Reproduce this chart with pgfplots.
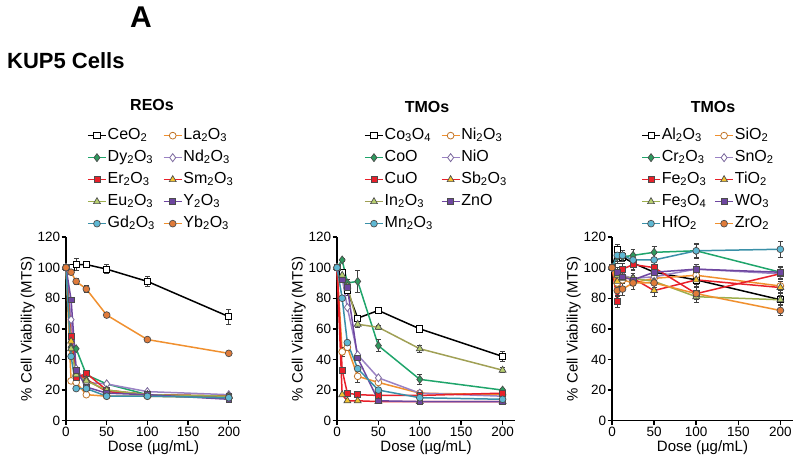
\documentclass[border=0pt]{standalone}
\usepackage{pgfplots}
\pgfplotsset{compat=1.18}
\usepackage{fontspec}
\setmainfont{Liberation Sans}
\definecolor{cgreen}{HTML}{1FA56B}
\definecolor{cgreenf}{HTML}{2E9A5E}
\definecolor{cred}{HTML}{E8202A}
\definecolor{colive}{HTML}{9DAF4E}
\definecolor{colivef}{HTML}{B8D070}
\definecolor{colive2}{HTML}{A0A055}
\definecolor{ccyan}{HTML}{3A90A8}
\definecolor{ccyanf}{HTML}{5FB8D3}
\definecolor{corange}{HTML}{F0902F}
\definecolor{corangef}{HTML}{E07B3A}
\definecolor{cpurl}{HTML}{9A82C4}
\definecolor{cpur}{HTML}{6E46A0}
\definecolor{cyellow}{HTML}{F2C230}
\pgfplotsset{
 panel/.style={
  scale only axis, width=#1, height=183.7pt,
  xmin=0, xmax=215, ymin=0, ymax=120,
  axis lines=left, axis line style={-, line width=1.5pt},
  xtick={0,50,100,150,200}, ytick={0,20,...,120},
  tick style={line width=1.4pt, black}, major tick length=4.5pt, tick align=outside,
  tick label style={font=\fontsize{13.5}{14}\selectfont},
  yticklabel style={inner xsep=1.2pt},
  xticklabel style={inner ysep=2pt},
  /pgf/number format/assume math mode=true,
  xlabel={Dose (µg/mL)}, ylabel={\% Cell Viability (MTS)},
  label style={font=\fontsize{15}{16}\selectfont},
  ylabel shift=-2pt, xlabel shift=-1.5pt,
  clip=false,
  every axis plot/.append style={line width=1.5pt},
  error bars/error bar style={line width=0.8pt, black!75},
  error bars/error mark options={rotate=90, mark size=2.4pt, line width=0.8pt, black!75},
  legend columns=2, legend cell align=left,
  legend style={draw=none, fill=none, anchor=north west,
    font=\fontsize{16}{17}\selectfont, row sep=5pt,
    nodes={inner sep=1pt, text height=11pt, text depth=4pt},
    /tikz/every even column/.append style={column sep=7pt}},
  legend image code/.code={\draw[mark repeat=2, mark phase=2, ##1] plot coordinates {(0pt,0pt) (9pt,0pt) (18pt,0pt)};},
 },
 sBlk/.style={black, mark=square*, mark options={solid, fill=white, draw=black, mark size=3.1pt, line width=0.8pt}},
 sGrn/.style={cgreen, mark=diamond*, mark options={solid, fill=cgreenf, draw=black!70, mark size=4pt, line width=0.7pt}},
 sRed/.style={cred, mark=square*, mark options={solid, fill=cred, draw=black!70, mark size=2.9pt, line width=0.7pt}},
 sTri/.style={colive, mark=triangle*, mark options={solid, fill=colivef, draw=black!70, mark size=4pt, line width=0.7pt}},
 sTriB/.style={colive2, mark=triangle*, mark options={solid, fill=colivef, draw=black!70, mark size=4pt, line width=0.7pt}},
 sCyn/.style={ccyan, mark=*, mark options={solid, fill=ccyanf, draw=black!70, mark size=3.4pt, line width=0.7pt}},
 sOrgO/.style={corange, mark=*, mark options={solid, fill=white, draw=corange!80!black, mark size=3.4pt, line width=0.8pt}},
 sPurD/.style={cpurl, mark=diamond*, mark options={solid, fill=white, draw=cpurl!80!black, mark size=4pt, line width=0.8pt}},
 sRedT/.style={cred, mark=triangle*, mark options={solid, fill=cyellow, draw=black!70, mark size=4pt, line width=0.7pt}},
 sPurS/.style={cpur, mark=square*, mark options={solid, fill=cpur, draw=black!70, mark size=2.9pt, line width=0.7pt}},
 sOrgF/.style={corange, mark=*, mark options={solid, fill=corangef, draw=black!70, mark size=3.4pt, line width=0.7pt}},
 eb/.style={error bars/.cd, y dir=both, y explicit},
}
\begin{document}
\begin{tikzpicture}
\useasboundingbox (0,0) rectangle (800pt,459pt);
% ---------------- Panel 1: REOs ----------------
\begin{axis}[panel=175pt, at={(66pt,38.3pt)}, anchor=south west,
  legend style={at={(axis description cs:0.103,1.61)}}]
\addplot[sBlk, eb] coordinates {(0,100)+-(0,2) (6.25,100)+-(0,2) (12.5,102)+-(0,4) (25,102)+-(0,2) (50,99)+-(0,3) (100,91)+-(0,3) (200,68)+-(0,5)};
\addlegendentry{CeO\textsubscript{2}}
\addplot[sOrgO] coordinates {(0,100) (6.25,26) (12.5,25) (25,17) (50,16) (100,16) (200,15)};
\addlegendentry{La\textsubscript{2}O\textsubscript{3}}
\addplot[sGrn] coordinates {(0,100) (6.25,48) (12.5,47) (25,30) (50,24) (100,17) (200,16)};
\addlegendentry{Dy\textsubscript{2}O\textsubscript{3}}
\addplot[sPurD] coordinates {(0,100) (6.25,66) (12.5,34) (25,25) (50,24) (100,19) (200,17)};
\addlegendentry{Nd\textsubscript{2}O\textsubscript{3}}
\addplot[sRed] coordinates {(0,100) (6.25,55) (12.5,28) (25,31) (50,20) (100,17) (200,16)};
\addlegendentry{Er\textsubscript{2}O\textsubscript{3}}
\addplot[sRedT] coordinates {(0,100) (6.25,52) (12.5,31) (25,27) (50,19) (100,17) (200,16)};
\addlegendentry{Sm\textsubscript{2}O\textsubscript{3}}
\addplot[sTri] coordinates {(0,100) (6.25,47) (12.5,30) (25,26) (50,20) (100,17) (200,16)};
\addlegendentry{Eu\textsubscript{2}O\textsubscript{3}}
\addplot[sPurS] coordinates {(0,100) (6.25,79) (12.5,33) (25,22) (50,18) (100,17) (200,14)};
\addlegendentry{Y\textsubscript{2}O\textsubscript{3}}
\addplot[sCyn] coordinates {(0,100) (6.25,42) (12.5,21) (25,21) (50,16) (100,16) (200,15)};
\addlegendentry{Gd\textsubscript{2}O\textsubscript{3}}
\addplot[sOrgF, eb] coordinates {(0,100)+-(0,1) (6.25,97)+-(0,1.5) (12.5,91)+-(0,2) (25,86)+-(0,2.5) (50,69)+-(0,1.5) (100,53)+-(0,1.5) (200,44)+-(0,1)};
\addlegendentry{Yb\textsubscript{2}O\textsubscript{3}}
\end{axis}
% ---------------- Panel 2: TMOs ----------------
\begin{axis}[panel=178pt, at={(337pt,38.3pt)}, anchor=south west,
  legend style={at={(axis description cs:0.135,1.61)}}]
\addplot[sBlk, eb] coordinates {(0,100)+-(0,1) (6.25,97)+-(0,2) (12.5,85)+-(0,3) (25,67)+-(0,2) (50,72)+-(0,2) (100,60)+-(0,2) (200,42)+-(0,3)};
\addlegendentry{Co\textsubscript{3}O\textsubscript{4}}
\addplot[sOrgO, eb] coordinates {(0,100)+-(0,1) (6.25,45)+-(0,3) (12.5,48)+-(0,2) (25,29)+-(0,4) (50,25)+-(0,1) (100,18)+-(0,1) (200,17)+-(0,1)};
\addlegendentry{Ni\textsubscript{2}O\textsubscript{3}}
\addplot[sGrn, eb] coordinates {(0,100)+-(0,1) (6.25,105)+-(0,1) (12.5,90)+-(0,2) (25,91)+-(0,7) (50,49)+-(0,4) (100,27)+-(0,3) (200,20)+-(0,1)};
\addlegendentry{CoO}
\addplot[sPurD] coordinates {(0,100) (6.25,93) (12.5,74) (25,43) (50,28) (100,18) (200,16)};
\addlegendentry{NiO}
\addplot[sRed] coordinates {(0,100) (6.25,33) (12.5,18) (25,17) (50,16.5) (100,16.5) (200,18)};
\addlegendentry{CuO}
\addplot[sRedT] coordinates {(0,100) (6.25,17) (12.5,13) (25,13) (50,12.5) (100,12.5) (200,12.5)};
\addlegendentry{Sb\textsubscript{2}O\textsubscript{3}}
\addplot[sTriB, eb] coordinates {(0,100)+-(0,1) (6.25,95)+-(0,2) (12.5,88)+-(0,2) (25,63)+-(0,2) (50,61)+-(0,1.5) (100,47)+-(0,2.5) (200,33)+-(0,1.5)};
\addlegendentry{In\textsubscript{2}O\textsubscript{3}}
\addplot[sPurS] coordinates {(0,100) (6.25,92) (12.5,87) (25,41) (50,13) (100,12.5) (200,12.5)};
\addlegendentry{ZnO}
\addplot[sCyn] coordinates {(0,100) (6.25,80) (12.5,51) (25,34) (50,20) (100,15) (200,14)};
\addlegendentry{Mn\textsubscript{2}O\textsubscript{3}}
\end{axis}
% ---------------- Panel 3: TMOs ----------------
\begin{axis}[panel=181pt, at={(612pt,38.3pt)}, anchor=south west,
  legend style={at={(axis description cs:0.144,1.61)}}]
\addplot[sBlk, eb] coordinates {(0,100)+-(0,2) (6.25,112)+-(0,3) (12.5,107)+-(0,3) (25,103)+-(0,4) (50,97)+-(0,4) (100,92)+-(0,4) (200,79)+-(0,4)};
\addlegendentry{Al\textsubscript{2}O\textsubscript{3}}
\addplot[sOrgO, eb] coordinates {(0,100)+-(0,1) (6.25,90)+-(0,4) (12.5,92)+-(0,4) (25,90)+-(0,4) (50,93)+-(0,4) (100,95)+-(0,3) (200,88)+-(0,3)};
\addlegendentry{SiO\textsubscript{2}}
\addplot[sGrn, eb] coordinates {(0,100)+-(0,1) (6.25,107)+-(0,4) (12.5,107)+-(0,3) (25,108)+-(0,4) (50,110)+-(0,4) (100,111)+-(0,5) (200,97)+-(0,4)};
\addlegendentry{Cr\textsubscript{2}O\textsubscript{3}}
\addplot[sPurD] coordinates {(0,100) (6.25,96) (12.5,95) (25,93) (50,94) (100,99) (200,96)};
\addlegendentry{SnO\textsubscript{2}}
\addplot[sRed, eb] coordinates {(0,100)+-(0,1) (6.25,78)+-(0,4) (12.5,99)+-(0,4) (25,102)+-(0,4) (50,100)+-(0,4) (100,83)+-(0,4) (200,96)+-(0,4)};
\addlegendentry{Fe\textsubscript{2}O\textsubscript{3}}
\addplot[sRedT, eb] coordinates {(0,100)+-(0,1) (6.25,91)+-(0,3) (12.5,93)+-(0,3) (25,93)+-(0,3) (50,85)+-(0,4) (100,92)+-(0,3) (200,87)+-(0,3)};
\addlegendentry{TiO\textsubscript{2}}
\addplot[sTri, eb] coordinates {(0,100)+-(0,1) (6.25,95)+-(0,3) (12.5,94)+-(0,3) (25,93)+-(0,3) (50,91)+-(0,4) (100,81)+-(0,4) (200,79)+-(0,3)};
\addlegendentry{Fe\textsubscript{3}O\textsubscript{4}}
\addplot[sPurS, eb] coordinates {(0,100)+-(0,1) (6.25,97)+-(0,3) (12.5,94)+-(0,3) (25,92)+-(0,3) (50,97)+-(0,3) (100,99)+-(0,3) (200,97)+-(0,3)};
\addlegendentry{WO\textsubscript{3}}
\addplot[sCyn, eb] coordinates {(0,100)+-(0,1) (6.25,108)+-(0,4) (12.5,108)+-(0,3) (25,105)+-(0,4) (50,105)+-(0,4) (100,111)+-(0,4) (200,112)+-(0,5)};
\addlegendentry{HfO\textsubscript{2}}
\addplot[sOrgF, eb] coordinates {(0,100)+-(0,1) (6.25,85)+-(0,4) (12.5,86)+-(0,4) (25,90)+-(0,4) (50,90)+-(0,4) (100,83)+-(0,4) (200,72)+-(0,3)};
\addlegendentry{ZrO\textsubscript{2}}
\end{axis}
% ---------------- texts ----------------
\node[font=\bfseries\fontsize{30}{32}\selectfont] at (141pt,442pt) {A};
\node[font=\bfseries\fontsize{22}{24}\selectfont, anchor=west, inner sep=0pt] at (7pt,398pt) {KUP5 Cells};
\node[font=\bfseries\fontsize{16}{18}\selectfont] at (152pt,354pt) {REOs};
\node[font=\bfseries\fontsize{16}{18}\selectfont] at (427pt,352pt) {TMOs};
\node[font=\bfseries\fontsize{16}{18}\selectfont] at (713pt,352pt) {TMOs};
\end{tikzpicture}
\end{document}
